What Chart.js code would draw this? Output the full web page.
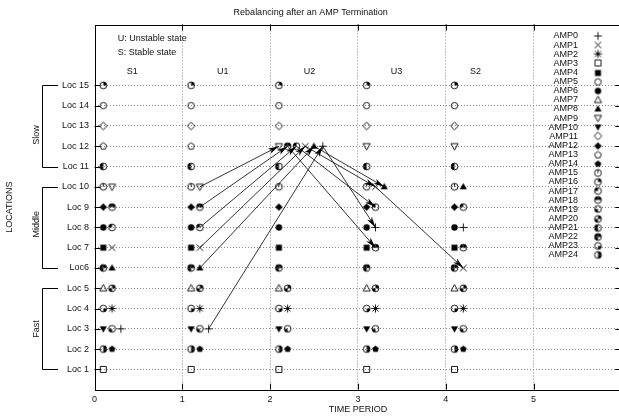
<!DOCTYPE html>
<html>
<head>
<meta charset="utf-8">
<script src="https://cdn.jsdelivr.net/npm/chart.js@4"></script>
<style>
  html, body { margin: 0; padding: 0; background: #fff; overflow: hidden; }
  #wrap { width: 630px; height: 416px; }
</style>
</head>
<body>
<div id="wrap"><canvas id="myChart" width="630" height="416"></canvas></div>
<script>
// data
var ampNames = ['AMP0','AMP1','AMP2','AMP3','AMP4','AMP5','AMP6','AMP7','AMP8','AMP9',
  'AMP10','AMP11','AMP12','AMP13','AMP14','AMP15','AMP16','AMP17','AMP18','AMP19',
  'AMP20','AMP21','AMP22','AMP23','AMP24'];
var stateNames = ['S1','U1','U2','U3','S2'];
var stateTimes = [0, 1, 2, 3, 4];

// location of every AMP in each state (null = gone)
var locS1 = [3,7,4,1,7,14,8,5,6,10,3,13,9,12,2,10,15,8,9,3,5,11,6,4,2];
var locU1 = [3,7,4,1,7,14,8,5,6,10,3,13,9,12,2,10,15,8,9,3,5,11,6,4,2];
var locU2 = [12,12,4,1,7,14,8,5,12,12,3,13,9,null,2,10,15,12,12,3,5,11,6,4,2];
var locU3 = [8,10,4,1,7,14,8,5,10,12,3,13,9,null,2,10,15,9,7,3,5,11,6,4,2];
var locS2 = [8,6,4,1,7,14,8,5,10,12,3,13,9,null,2,10,15,9,7,3,5,11,6,4,2];

// time offset of every AMP inside its state column
var slotS1 = [0.3,0.2,0.2,0.1,0.1,0.1,0.1,0.1,0.2,0.2,0.1,0.1,0.1,0.1,0.2,0.1,0.1,0.2,0.2,0.2,0.2,0.1,0.1,0.1,0.1];
var slotU1 = [0.3,0.2,0.2,0.1,0.1,0.1,0.1,0.1,0.2,0.2,0.1,0.1,0.1,0.1,0.2,0.1,0.1,0.2,0.2,0.2,0.2,0.1,0.1,0.1,0.1];
var slotU2 = [0.6,0.4,0.2,0.1,0.1,0.1,0.1,0.1,0.5,0.1,0.1,0.1,0.1,null,0.2,0.1,0.1,0.3,0.2,0.2,0.2,0.1,0.1,0.1,0.1];
var slotU3 = [0.2,0.2,0.2,0.1,0.1,0.1,0.1,0.1,0.3,0.1,0.1,0.1,0.1,null,0.2,0.1,0.1,0.2,0.2,0.2,0.2,0.1,0.1,0.1,0.1];
var slotS2 = [0.2,0.2,0.2,0.1,0.1,0.1,0.1,0.1,0.2,0.1,0.1,0.1,0.1,null,0.2,0.1,0.1,0.2,0.2,0.2,0.2,0.1,0.1,0.1,0.1];

var yTickLabels = ['','Loc 1','Loc 2','Loc 3','Loc 4','Loc 5','Loc6','Loc 7','Loc 8','Loc 9',
  'Loc 10','Loc 11','Loc 12','Loc 13','Loc 14','Loc 15'];
var groupNames = ['Slow','Middle','Fast'];
var groupTop = [15, 10, 5];
var groupBottom = [11, 6, 1];
var noteLines = ['U: Unstable state','S: Stable state'];

// styling
var ampSymbols = ['plus','cross','star','box','boxF','circle','circleF','triU','triUF','triD','triDF',
  'dia','diaF','pent','pentF','C0','C1','C2','C3','C4','C5','C6','C7','C8','C9'];
var FONT = 'Liberation Sans, Arial, sans-serif';
var TXT = '#111';

var locs = [locS1, locU1, locU2, locU3, locS2];
var slots = [slotS1, slotU1, slotU2, slotU3, slotS2];

function makeSymbol(kind) {
  var c = document.createElement('canvas');
  c.width = 11; c.height = 11;
  var g = c.getContext('2d');
  var m = 5.5;
  g.strokeStyle = '#000';
  g.fillStyle = '#000';
  g.lineWidth = 0.9;
  g.beginPath();
  if (kind == 'plus') {
    g.moveTo(m - 4, m); g.lineTo(m + 4, m);
    g.moveTo(m, m - 4); g.lineTo(m, m + 4);
    g.stroke();
  } else if (kind == 'cross') {
    g.moveTo(m - 3.2, m - 3.2); g.lineTo(m + 3.2, m + 3.2);
    g.moveTo(m + 3.2, m - 3.2); g.lineTo(m - 3.2, m + 3.2);
    g.stroke();
  } else if (kind == 'star') {
    g.moveTo(m - 4, m); g.lineTo(m + 4, m);
    g.moveTo(m, m - 4); g.lineTo(m, m + 4);
    g.moveTo(m - 3, m - 3); g.lineTo(m + 3, m + 3);
    g.moveTo(m + 3, m - 3); g.lineTo(m - 3, m + 3);
    g.stroke();
  } else if (kind == 'box' || kind == 'boxF') {
    g.rect(m - 3, m - 3, 6, 6);
    kind == 'boxF' ? g.fill() : g.stroke();
  } else if (kind == 'circle' || kind == 'circleF') {
    g.arc(m, m, 3.2, 0, Math.PI * 2);
    kind == 'circleF' ? g.fill() : g.stroke();
  } else if (kind == 'triU' || kind == 'triUF') {
    g.moveTo(m, m - 3.8); g.lineTo(m + 3.6, m + 2.6); g.lineTo(m - 3.6, m + 2.6); g.closePath();
    kind == 'triUF' ? g.fill() : g.stroke();
  } else if (kind == 'triD' || kind == 'triDF') {
    g.moveTo(m, m + 3.8); g.lineTo(m + 3.6, m - 2.6); g.lineTo(m - 3.6, m - 2.6); g.closePath();
    kind == 'triDF' ? g.fill() : g.stroke();
  } else if (kind == 'dia' || kind == 'diaF') {
    g.moveTo(m, m - 3.8); g.lineTo(m + 3.8, m); g.lineTo(m, m + 3.8); g.lineTo(m - 3.8, m); g.closePath();
    kind == 'diaF' ? g.fill() : g.stroke();
  } else if (kind == 'pent' || kind == 'pentF') {
    for (var k = 0; k < 5; k++) {
      var a = -Math.PI / 2 + k * 2 * Math.PI / 5;
      var px = m + 3.5 * Math.cos(a), py = m + 3.5 * Math.sin(a);
      k == 0 ? g.moveTo(px, py) : g.lineTo(px, py);
    }
    g.closePath();
    kind == 'pentF' ? g.fill() : g.stroke();
  } else {
    // gnuplot style quarter filled circles, bits: 1 top right, 2 top left, 4 bottom left, 8 bottom right
    var bits = parseInt(kind.slice(1), 10);
    var quads = [[-Math.PI / 2, 0], [-Math.PI, -Math.PI / 2], [Math.PI / 2, Math.PI], [0, Math.PI / 2]];
    for (var q = 0; q < 4; q++) {
      if (bits & (1 << q)) {
        g.beginPath();
        g.moveTo(m, m);
        g.arc(m, m, 3.4, quads[q][0], quads[q][1]);
        g.closePath();
        g.fill();
      }
    }
    g.beginPath();
    g.arc(m, m, 3.4, 0, Math.PI * 2);
    if (bits == 0) { g.moveTo(m, m); g.lineTo(m, m - 3.4); }
    g.stroke();
  }
  return c;
}

var symbolImages = ampSymbols.map(makeSymbol);

// marker datasets, one per AMP
var datasets = [];
ampNames.forEach(function(name, i) {
  var pts = [];
  for (var s = 0; s < stateNames.length; s++) {
    if (locs[s][i] != null) pts.push({ x: stateTimes[s] + slots[s][i], y: locs[s][i] });
  }
  datasets.push({
    label: name,
    data: pts,
    pointStyle: symbolImages[i],
    pointRadius: 4,
    showLine: false,
    order: 0
  });
});

// arrows wherever an AMP changes location between two states
ampNames.forEach(function(name, i) {
  for (var s = 0; s < stateNames.length - 1; s++) {
    var a = locs[s][i], b = locs[s + 1][i];
    if (a == null || b == null || a == b) continue;
    datasets.push({
      label: name + ' move',
      isArrow: true,
      data: [{ x: stateTimes[s] + slots[s][i], y: a }, { x: stateTimes[s + 1] + slots[s + 1][i], y: b }],
      showLine: true,
      borderColor: '#000',
      borderWidth: 0.8,
      pointRadius: 0,
      order: 1
    });
  }
});

var arrowHeads = {
  id: 'arrowHeads',
  afterDatasetsDraw: function(chart) {
    var ctx = chart.ctx;
    chart.data.datasets.forEach(function(ds, i) {
      if (!ds.isArrow) return;
      var p = chart.getDatasetMeta(i).data;
      var a = p[0], b = p[1];
      var ang = Math.atan2(b.y - a.y, b.x - a.x);
      var len = 11, half = 2.8;
      var bx = b.x - len * Math.cos(ang), by = b.y - len * Math.sin(ang);
      ctx.save();
      ctx.fillStyle = '#000';
      ctx.beginPath();
      ctx.moveTo(b.x, b.y);
      ctx.lineTo(bx + half * Math.sin(ang), by - half * Math.cos(ang));
      ctx.lineTo(b.x - 8 * Math.cos(ang), b.y - 8 * Math.sin(ang));
      ctx.lineTo(bx - half * Math.sin(ang), by + half * Math.cos(ang));
      ctx.closePath();
      ctx.fill();
      ctx.restore();
    });
  }
};

var frame = {
  id: 'frame',
  beforeDatasetsDraw: function(chart) {
    var ctx = chart.ctx, area = chart.chartArea;
    var xs = chart.scales.x, ys = chart.scales.y;
    ctx.save();
    ctx.strokeStyle = '#000';
    ctx.lineWidth = 1;
    ctx.strokeRect(Math.round(area.left) + 0.5, Math.round(area.top) + 0.5,
      Math.round(area.right - area.left), Math.round(area.bottom - area.top));
    ctx.beginPath();
    for (var v = 1; v < yTickLabels.length; v++) {
      var y = Math.round(ys.getPixelForValue(v)) + 0.5;
      ctx.moveTo(area.left, y); ctx.lineTo(area.left + 6, y);
      ctx.moveTo(area.right, y); ctx.lineTo(area.right - 6, y);
    }
    for (var t = 1; t <= 5; t++) {
      var x = Math.round(xs.getPixelForValue(t)) + 0.5;
      ctx.moveTo(x, area.bottom); ctx.lineTo(x, area.bottom - 6);
      ctx.moveTo(x, area.top); ctx.lineTo(x, area.top + 6);
    }
    ctx.stroke();
    ctx.restore();
  }
};

var notes = {
  id: 'notes',
  afterDraw: function(chart) {
    var ctx = chart.ctx;
    var xs = chart.scales.x, ys = chart.scales.y;
    ctx.save();
    ctx.fillStyle = TXT;
    ctx.font = '9px ' + FONT;
    ctx.textBaseline = 'middle';

    // notes in the top left corner
    ctx.textAlign = 'left';
    ctx.fillText(noteLines[0], xs.getPixelForValue(0.265), ys.getPixelForValue(17.29));
    ctx.fillText(noteLines[1], xs.getPixelForValue(0.265), ys.getPixelForValue(16.64));

    // state names over the columns
    var labelOffsets = [0.43, 0.46, 0.45, 0.44, 0.34];
    ctx.textAlign = 'center';
    stateNames.forEach(function(n, s) {
      ctx.fillText(n, xs.getPixelForValue(stateTimes[s] + labelOffsets[s]), ys.getPixelForValue(15.66));
    });

    // legend on the right
    ctx.textAlign = 'right';
    ampNames.forEach(function(n, i) {
      var y = 36 + i * 9.125;
      ctx.fillText(n, 578, y);
      ctx.drawImage(symbolImages[i], 598 - 5.5, Math.round(y) - 5.5);
    });

    // location groups with brackets
    ctx.strokeStyle = '#000';
    ctx.lineWidth = 1;
    groupNames.forEach(function(n, k) {
      var y1 = Math.round(ys.getPixelForValue(groupTop[k])) + 0.5;
      var y2 = Math.round(ys.getPixelForValue(groupBottom[k])) + 0.5;
      ctx.beginPath();
      ctx.moveTo(58, y1); ctx.lineTo(42.5, y1); ctx.lineTo(42.5, y2); ctx.lineTo(58, y2);
      ctx.stroke();
      var mid = (y1 + y2) / 2;
      if (k == 0) mid = ys.getPixelForValue(12.55);
      if (k == 1) mid = ys.getPixelForValue(8.15);
      ctx.save();
      ctx.translate(36.5, mid);
      ctx.rotate(-Math.PI / 2);
      ctx.textAlign = 'center';
      ctx.fillText(n, 0, 0);
      ctx.restore();
    });
    ctx.restore();
  }
};

var ctx = document.getElementById('myChart').getContext('2d');
var myChart = new Chart(ctx, {
  type: 'scatter',
  data: { datasets: datasets },
  options: {
    responsive: false,
    animation: false,
    events: [],
    layout: { padding: { left: 0, right: 8.7, top: 0, bottom: 0 } },
    plugins: {
      legend: { display: false },
      tooltip: { enabled: false },
      title: {
        display: true,
        text: 'Rebalancing after an AMP Termination',
        color: TXT,
        font: { family: FONT, size: 9, weight: 'normal' },
        padding: { top: 7, bottom: 6.7 }
      }
    },
    scales: {
      x: {
        type: 'linear',
        min: 0,
        max: 6,
        afterFit: function(scale) { scale.height = 26.3; },
        ticks: {
          stepSize: 1,
          color: TXT,
          padding: 4,
          font: { family: FONT, size: 9 },
          callback: function(v) { return v <= 5 ? v : ''; }
        },
        grid: {
          drawTicks: false,
          lineWidth: 1,
          color: function(c) { return (c.tick && c.tick.value >= 1 && c.tick.value <= 5) ? '#8a8a8a' : 'rgba(0,0,0,0)'; }
        },
        border: { display: false, dash: [1, 2] },
        title: {
          display: true,
          text: 'TIME PERIOD',
          color: TXT,
          font: { family: FONT, size: 9 },
          padding: { top: 0, bottom: 1 }
        }
      },
      y: {
        type: 'linear',
        min: 0,
        max: 18,
        afterFit: function(scale) { scale.width = 94.5; },
        ticks: {
          stepSize: 1,
          autoSkip: false,
          color: TXT,
          padding: 5.5,
          font: { family: FONT, size: 9 },
          callback: function(v) { return yTickLabels[v] || ''; }
        },
        grid: {
          drawTicks: false,
          lineWidth: 1,
          color: function(c) { return (c.tick && c.tick.value >= 1 && c.tick.value <= 15) ? '#8a8a8a' : 'rgba(0,0,0,0)'; }
        },
        border: { display: false, dash: [1, 2] },
        title: {
          display: true,
          text: 'LOCATIONS',
          color: TXT,
          font: { family: FONT, size: 9 },
          padding: { top: 4, bottom: 0 }
        }
      }
    }
  },
  plugins: [frame, arrowHeads, notes]
});
</script>
</body>
</html>
